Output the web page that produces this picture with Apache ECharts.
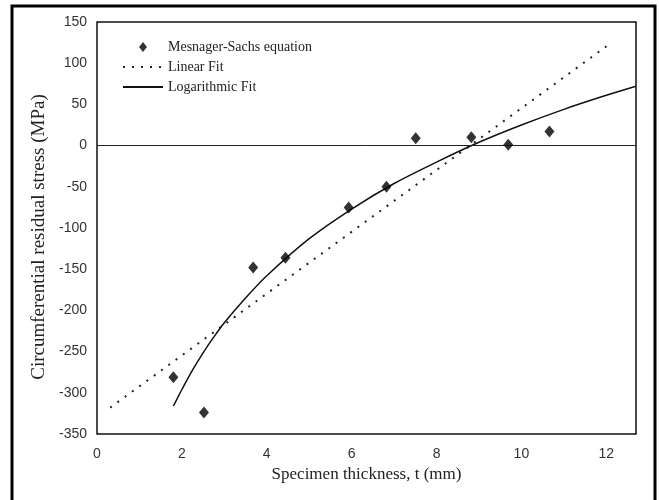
<!DOCTYPE html>
<html>
<head>
<meta charset="utf-8">
<script src="https://cdn.jsdelivr.net/npm/echarts@6/dist/echarts.min.js"></script>
<style>
  html, body { margin: 0; padding: 0; background: #fff; }
  #chart { width: 659px; height: 500px; }
</style>
</head>
<body>
<div id="chart"></div>
<script>
// measured points (Mesnager-Sachs equation)
const thickness = [1.8, 2.52, 3.68, 4.44, 5.93, 6.82, 7.51, 8.82, 9.69, 10.66]
const stress = [-281, -324, -148, -136, -75, -50, 9, 10, 1, 17]

// linear fit, end points
const linX = [0.31, 12.07]
const linY = [-318, 123]

// logarithmic fit, points
const logX = [1.8, 1.9, 2.0, 2.25, 2.5, 2.75, 3, 3.5, 4, 5, 6, 7, 8, 9, 10, 11, 12, 12.7]
const logY = [-316, -306, -296, -272.5, -251.5, -232.5, -215, -185, -158, -113, -77, -46, -20, 4, 25, 44, 61, 72]

const xTicks = [0, 2, 4, 6, 8, 10, 12]
const yTicks = [-350, -300, -250, -200, -150, -100, -50, 0, 50, 100, 150]

const serif = '"Liberation Serif", "Times New Roman", serif'
const sans = '"Liberation Sans", Arial, sans-serif'

const pair = (xs, ys) => xs.map((x, i) => [x, ys[i]])

// diamond in the middle of a 40x10 box (the moveTo's pin the box)
const diamondIcon = 'path://M0,0M40,10M20,0L24,5L20,10L16,5Z'

const chart = echarts.init(document.getElementById('chart'))
chart.setOption({
  animation: false,
  backgroundColor: '#fff',
  grid: {
    left: 97, top: 22, right: 23, bottom: 66,
    show: true,
    borderColor: '#111',
    borderWidth: 1.5
  },
  legend: {
    orient: 'vertical',
    left: 117,
    top: 35,
    itemWidth: 40,
    itemHeight: 10,
    itemGap: 6,
    textStyle: { fontFamily: serif, fontSize: 14, color: '#222' },
    data: [
      { name: 'Mesnager-Sachs equation', icon: diamondIcon },
      { name: 'Linear Fit', itemStyle: { opacity: 0 } },
      { name: 'Logarithmic Fit', itemStyle: { opacity: 0 } }
    ]
  },
  xAxis: {
    type: 'value',
    min: 0,
    max: 12.7,
    interval: 2,
    name: 'Specimen thickness, t (mm)',
    nameLocation: 'middle',
    nameGap: 30,
    nameTextStyle: { fontFamily: serif, fontSize: 17, color: '#222' },
    axisLine: { show: false },
    axisTick: { show: false },
    splitLine: { show: false },
    axisLabel: {
      showMaxLabel: false,
      margin: 13,
      fontFamily: sans,
      fontSize: 14,
      color: '#333',
      formatter: v => xTicks.includes(v) ? String(v) : ''
    }
  },
  yAxis: {
    type: 'value',
    min: -350,
    max: 150,
    interval: 50,
    name: 'Circumferential residual stress (MPa)',
    nameLocation: 'middle',
    nameGap: 42,
    nameTextStyle: { fontFamily: serif, fontSize: 19, color: '#222', padding: [0, 18, 0, 0] },
    axisLine: { show: false },
    axisTick: { show: false },
    splitLine: { show: false },
    axisLabel: {
      margin: 10,
      fontFamily: sans,
      fontSize: 14,
      color: '#333',
      formatter: v => yTicks.includes(v) ? String(v) : ''
    }
  },
  series: [
    {
      name: 'Mesnager-Sachs equation',
      type: 'scatter',
      symbol: 'diamond',
      symbolSize: [10, 12],
      itemStyle: { color: '#000' },
      data: pair(thickness, stress),
      z: 5
    },
    {
      name: 'Linear Fit',
      type: 'line',
      showSymbol: false,
      symbol: 'none',
      itemStyle: { color: '#222' },
      lineStyle: { color: '#222', width: 2, type: [2, 7] },
      data: pair(linX, linY)
    },
    {
      name: 'Logarithmic Fit',
      type: 'line',
      showSymbol: false,
      symbol: 'none',
      smooth: 0.3,
      itemStyle: { color: '#111' },
      lineStyle: { color: '#111', width: 1.5 },
      data: pair(logX, logY),
      markLine: {
        silent: true,
        symbol: 'none',
        label: { show: false },
        lineStyle: { color: '#222', width: 1, type: 'solid' },
        data: [{ yAxis: 0 }]
      }
    }
  ],
  graphic: [
    {
      type: 'rect',
      shape: { x: 12, y: 6, width: 643, height: 510 },
      style: { fill: 'none', stroke: '#000', lineWidth: 3 },
      silent: true
    }
  ]
})
</script>
</body>
</html>
